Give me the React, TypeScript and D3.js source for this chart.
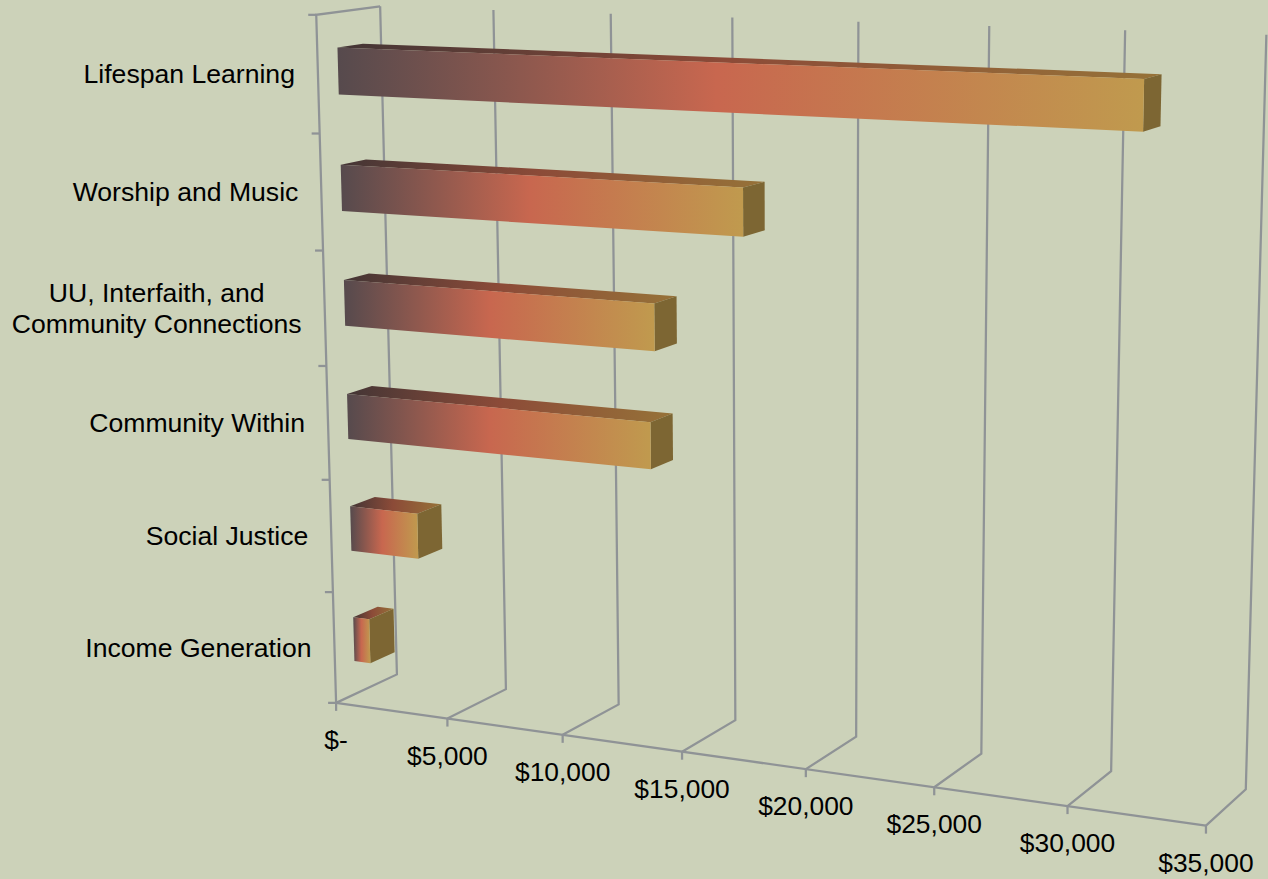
import * as d3 from 'd3';
import React, { useEffect, useRef } from 'react';

const categories = [
  'Lifespan Learning',
  'Worship and Music',
  'UU, Interfaith, and|Community Connections',
  'Community Within',
  'Social Justice',
  'Income Generation',
];
const amounts = [31780, 16900, 13300, 13100, 3020, 730];
const tickValues = [0, 5000, 10000, 15000, 20000, 25000, 30000, 35000];

// Where the frame of the chart sits in the picture, used to fit the camera
const floorFrontPx = [[336, 702], [447, 718], [563, 735], [683, 752], [806, 770], [933, 789], [1068, 805], [1206, 825]];
const floorBackPx = [[397, 675], [506, 689], [618, 704], [736, 720], [856, 736], [981, 755], [1111, 771], [1246, 789]];
const wallTopPx = [[380, 7], [493, 10], [612, 13], [732, 17], [858, 22], [990, 26], [1125, 30], [1266, 35]];
const frontTopPx = [316, 15];

const WIDTH = 1268;
const HEIGHT = 879;
const FONT = '"Liberation Sans", Arial, sans-serif';
const GRID = '#8f9396';

const valueScale = d3.scaleLinear().domain([0, 35000]).range([0, 1]);

type Pt = [number, number];

// least squares for the 11 terms of a projective camera
function fitCamera() {
  const samples: number[][] = [];
  tickValues.forEach((t, i) => {
    const v = valueScale(t);
    samples.push([v, 0, 0, floorFrontPx[i][0], floorFrontPx[i][1]]);
    samples.push([v, 0, 1, floorBackPx[i][0], floorBackPx[i][1]]);
    samples.push([v, 1, 1, wallTopPx[i][0], wallTopPx[i][1]]);
  });
  samples.push([0, 1, 0, frontTopPx[0], frontTopPx[1]]);

  const rows: number[][] = [];
  samples.forEach(([v, h, d, px, py]) => {
    const x = px / 1000;
    const y = py / 1000;
    rows.push([1, v, h, d, 0, 0, 0, 0, -x * v, -x * h, -x * d, x]);
    rows.push([0, 0, 0, 0, 1, v, h, d, -y * v, -y * h, -y * d, y]);
  });

  const n = 11;
  const m = d3.range(n).map((i) =>
    d3.range(n + 1).map((j) => d3.sum(rows, (r) => r[i] * r[j]))
  );
  for (let c = 0; c < n; c++) {
    let best = c;
    for (let r = c + 1; r < n; r++) {
      if (Math.abs(m[r][c]) > Math.abs(m[best][c])) best = r;
    }
    [m[c], m[best]] = [m[best], m[c]];
    for (let r = 0; r < n; r++) {
      if (r === c) continue;
      const f = m[r][c] / m[c][c];
      for (let k = c; k <= n; k++) m[r][k] -= f * m[c][k];
    }
  }
  const p = m.map((row, i) => row[n] / row[i]);
  return (v: number, h: number, d: number): Pt => {
    const w = 1 + p[8] * v + p[9] * h + p[10] * d;
    return [
      (1000 * (p[0] + p[1] * v + p[2] * h + p[3] * d)) / w,
      (1000 * (p[4] + p[5] * v + p[6] * h + p[7] * d)) / w,
    ];
  };
}

const App: React.FC = () => {
  const svgRef = useRef<SVGSVGElement | null>(null);

  useEffect(() => {
    if (!svgRef.current) return;
    const svg = d3.select(svgRef.current);
    svg.selectAll('*').remove();

    const project = fitCamera();
    const path = d3.line<Pt>();
    const poly = (pts: Pt[]) => path(pts) + 'Z';

    // bar height in the front wall, depth on the floor
    const heightScale = d3
      .scaleBand<string>()
      .domain(categories)
      .range([1, 0])
      .paddingInner(0.6)
      .paddingOuter(0.3);
    const depthFrom = 0.31;
    const depthTo = 0.71;

    const defs = svg.append('defs');
    const addGradient = (id: string, stops: [number, string][]) => {
      const g = defs.append('linearGradient').attr('id', id);
      stops.forEach(([o, c]) =>
        g.append('stop').attr('offset', o).attr('stop-color', c)
      );
    };
    addGradient('barFront', [[0, '#564a4d'], [0.47, '#c8674f'], [1, '#c09a4e']]);
    addGradient('barTop', [[0, '#433535'], [0.47, '#8c4b38'], [1, '#967238']]);

    // Rejilla
    const grid = svg.append('g').attr('fill', 'none').attr('stroke', GRID).attr('stroke-width', 2.25);
    const drawLine = (pts: Pt[]) => grid.append('path').attr('d', path(pts));

    tickValues.forEach((t) => {
      const v = valueScale(t);
      const front = project(v, 0, 0);
      drawLine([project(v, 1, 1), project(v, 0, 1), front]);
      drawLine([front, [front[0], front[1] + 8]]);
    });
    drawLine([project(0, 0, 0), project(1, 0, 0)]);
    drawLine([project(0, 1, 1), project(0, 1, 0), project(0, 0, 0)]);
    d3.range(categories.length + 1).forEach((i) => {
      const p = project(0, i / categories.length, 0);
      drawLine([[p[0] - 8, p[1]], p]);
    });

    // Barras
    categories.forEach((cat, i) => {
      const v = valueScale(amounts[i]);
      const lo = heightScale(cat) as number;
      const hi = lo + heightScale.bandwidth();
      const bar = svg.append('g');
      bar.append('path')
        .attr('d', poly([project(0, hi, depthFrom), project(v, hi, depthFrom), project(v, hi, depthTo), project(0, hi, depthTo)]))
        .attr('fill', 'url(#barTop)');
      bar.append('path')
        .attr('d', poly([project(v, lo, depthFrom), project(v, hi, depthFrom), project(v, hi, depthTo), project(v, lo, depthTo)]))
        .attr('fill', '#7d6633');
      bar.append('path')
        .attr('d', poly([project(0, lo, depthFrom), project(v, lo, depthFrom), project(v, hi, depthFrom), project(0, hi, depthFrom)]))
        .attr('fill', 'url(#barFront)');

      // Etiqueta de categoria
      const anchor = project(0, lo + heightScale.bandwidth() / 2, 0);
      const lines = cat.split('|');
      const label = svg.append('text')
        .attr('font-family', FONT)
        .attr('font-size', 26.6)
        .attr('fill', '#000')
        .attr('text-anchor', lines.length > 1 ? 'middle' : 'end');
      lines.forEach((line, k) => {
        label.append('tspan')
          .attr('x', lines.length > 1 ? anchor[0] - 168 : anchor[0] - 23)
          .attr('y', anchor[1] + 9 + (k - (lines.length - 1) / 2) * 31)
          .text(line);
      });
    });

    // Etiquetas del eje
    const money = d3.format('$,');
    tickValues.forEach((t) => {
      const p = project(valueScale(t), 0, 0);
      svg.append('text')
        .attr('x', p[0])
        .attr('y', p[1] + 46)
        .attr('text-anchor', 'middle')
        .attr('font-family', FONT)
        .attr('font-size', 26.4)
        .attr('fill', '#000')
        .text(t === 0 ? '$-' : money(t));
    });
  }, []);

  return (
    <svg
      ref={svgRef}
      width={WIDTH}
      height={HEIGHT}
      style={{ position: 'absolute', left: 0, top: 0, display: 'block', background: '#ccd2b9' }}
    />
  );
};

export default App;
